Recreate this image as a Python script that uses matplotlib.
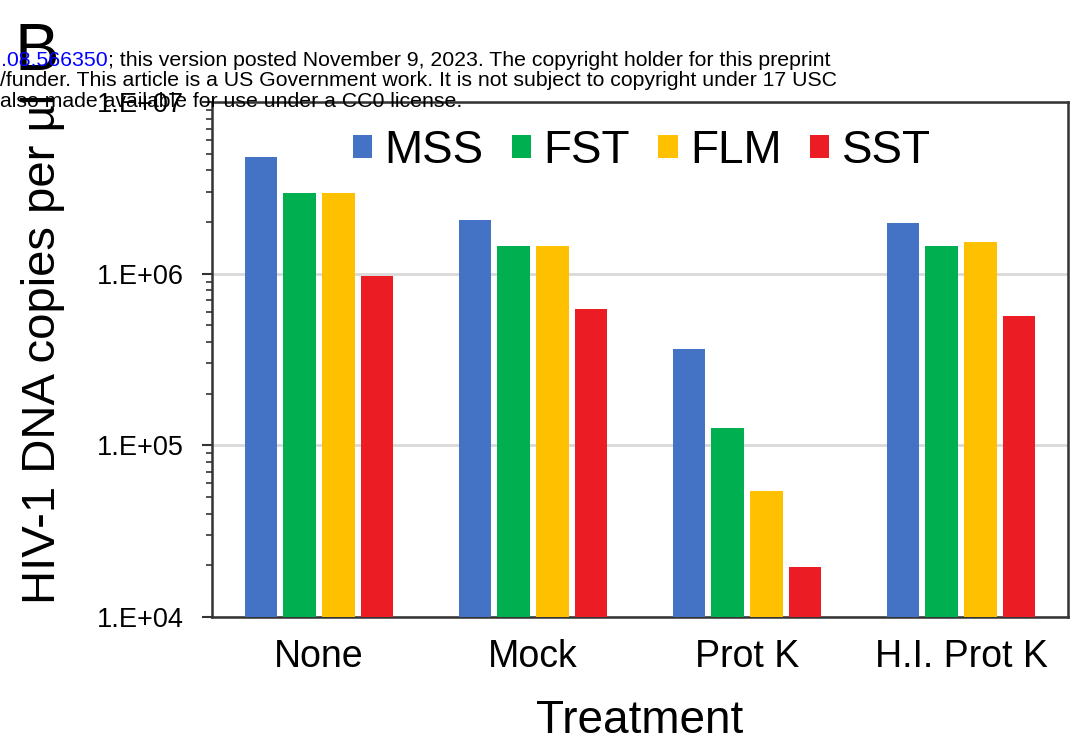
import numpy as np
import matplotlib
matplotlib.use("Agg")
import matplotlib.pyplot as plt
from matplotlib.ticker import FixedLocator, FuncFormatter, LogLocator, NullFormatter
from matplotlib.transforms import Bbox

plt.rcParams['font.family'] = ['Liberation Sans', 'DejaVu Sans']

treatments = ["None", "Mock", "Prot K", "H.I. Prot K"]
methods = ["MSS", "FST", "FLM", "SST"]
mss = [4.8e6, 2.05e6, 3.65e5, 1.98e6]
fst = [2.95e6, 1.45e6, 1.26e5, 1.45e6]
flm = [2.95e6, 1.45e6, 5.4e4, 1.53e6]
sst = [9.7e5, 6.2e5, 1.95e4, 5.7e5]
colors = ["#4472C4", "#00B050", "#FFC000", "#EC1C24"]

W, H = 1073, 747
fig = plt.figure(figsize=(W / 100, H / 100), dpi=100)
ax = fig.add_axes([212 / W, 1 - 617 / H, 856 / W, (617 - 102) / H])

x = np.arange(len(treatments))
offsets = [-0.272, -0.091, 0.091, 0.272]
bw = 0.15
for vals, off, col, name in zip([mss, fst, flm, sst], offsets, colors, methods):
    ax.bar(x + off, vals, width=bw, color=col, label=name, zorder=3)

ax.set_yscale("log")
ax.set_ylim(1e4, 1e7)
ax.set_xlim(-0.5, 3.5)
ax.yaxis.set_major_locator(FixedLocator([1e4, 1e5, 1e6, 1e7]))
ax.yaxis.set_major_formatter(FuncFormatter(lambda v, p: "1.E+%02d" % int(round(np.log10(v)))))
ax.yaxis.set_minor_locator(LogLocator(base=10, subs=np.arange(2, 10)))
ax.yaxis.set_minor_formatter(NullFormatter())
ax.grid(axis="y", which="major", color="#D9D9D9", linewidth=2, zorder=0)
ax.set_xticks(x)
ax.set_xticklabels(treatments, fontsize=27)
ax.tick_params(axis="x", length=0, pad=16)
ax.tick_params(axis="y", which="major", labelsize=19.5, length=7, width=1.5, color="#333333", pad=13)
ax.tick_params(axis="y", which="minor", length=4, width=1.2, color="#333333")
for s in ax.spines.values():
    s.set_color("#333333")
    s.set_linewidth(1.8)

ax.set_xlabel("Treatment", fontsize=33, labelpad=17)

leg = ax.legend(loc="upper center", bbox_to_anchor=(0.502, 1.01), ncol=4, frameon=False,
                fontsize=33, handlelength=0.42, handleheight=0.42, handletextpad=0.27,
                columnspacing=0.62, borderpad=0.2)

# y-axis label, cut off at the top of the panel
ylab = fig.text(43 / W, 1 - 604 / H, "HIV-1 DNA copies per µl", rotation=90,
                fontsize=34, ha="center", va="bottom")
ylab.set_clip_box(Bbox([[0, 0], [W, H - 90]]))
ylab.set_clip_on(True)

# panel letter
fig.text(14 / W, 1 - 70 / H, "B", fontsize=48, ha="left", va="baseline")

# preprint notice overlay
hdr = 15.3
fig.text(1 / W, 1 - 66 / H, ".08.566350", color="#0000FF", fontsize=hdr, ha="left", va="baseline")
fig.text(108 / W, 1 - 66 / H, "; this version posted November 9, 2023. The copyright holder for this preprint",
         fontsize=hdr, ha="left", va="baseline")
fig.text(0 / W, 1 - 86 / H, "/funder. This article is a US Government work. It is not subject to copyright under 17 USC",
         fontsize=hdr, ha="left", va="baseline")
fig.text(0 / W, 1 - 107 / H, "also made available for use under a CC0 license.",
         fontsize=hdr, ha="left", va="baseline")

fig.savefig("out.png", dpi=100)
